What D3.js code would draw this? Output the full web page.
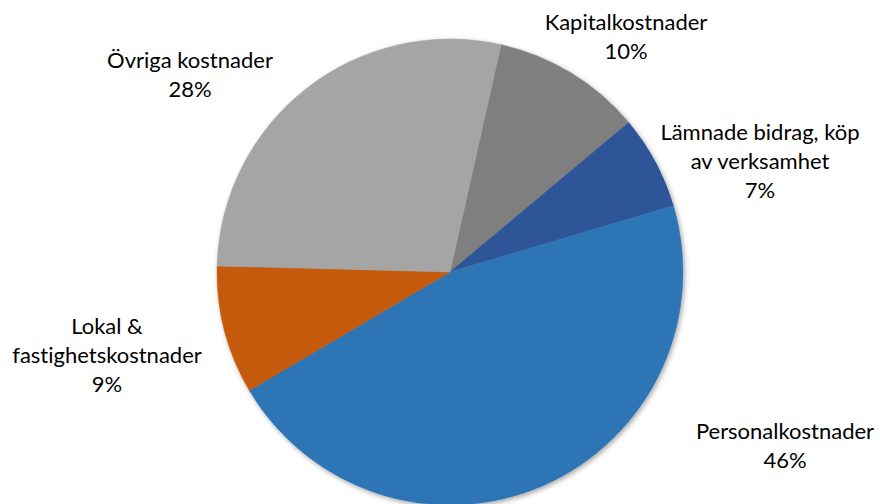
<!DOCTYPE html>
<html>
<head>
<meta charset="utf-8">
<script src="https://cdn.jsdelivr.net/npm/d3@7"></script>
<style>
  html, body { margin: 0; padding: 0; background: #ffffff; }
  svg { display: block; }
  text { font-variant-ligatures: none; font-feature-settings: "liga" 0, "clig" 0; }
</style>
</head>
<body>
<svg id="chart" width="880" height="504"></svg>
<script>
// ---- data ----
const categories = ["Kapitalkostnader", "Lämnade bidrag, köp av verksamhet", "Personalkostnader", "Lokal & fastighetskostnader", "Övriga kostnader"];
const values = [10.4, 6.5, 46.1, 8.9, 28.1];
const percentLabels = ["10%", "7%", "46%", "9%", "28%"];
const labelLines = [
  ["Kapitalkostnader"],
  ["Lämnade bidrag, köp", "av verksamhet"],
  ["Personalkostnader"],
  ["Lokal &", "fastighetskostnader"],
  ["Övriga kostnader"]
];
const colors = ["#7F7F7F", "#2F5597", "#2E75B6", "#C55A11", "#A5A5A5"];

// ---- layout ----
const W = 880, H = 504;
const cx = 450, cy = 272, R = 233;
const firstSliceAngle = 12.66; // degrees, clockwise from 12 o'clock
// label anchor (center x, first baseline y) for each slice
const labelPos = [
  [626, 30],
  [760, 139.5],
  [785, 439],
  [107, 333.5],
  [190, 68]
];
const lineH = 29.2;

const svg = d3.select("#chart");
const defs = svg.append("defs");
const f = defs.append("filter").attr("id", "shadow")
  .attr("x", "-10%").attr("y", "-10%").attr("width", "120%").attr("height", "120%");
f.append("feDropShadow").attr("dx", 1.5).attr("dy", 2).attr("stdDeviation", 2.5)
  .attr("flood-color", "#000").attr("flood-opacity", 0.35);

const pie = d3.pie().sort(null).value(d => d)
  .startAngle(firstSliceAngle * Math.PI / 180)
  .endAngle(firstSliceAngle * Math.PI / 180 + 2 * Math.PI);
const arcs = pie(values);
const arc = d3.arc().innerRadius(0).outerRadius(R);

const g = svg.append("g").attr("transform", `translate(${cx},${cy})`);
const gs = g.append("g").attr("filter", "url(#shadow)");
gs.selectAll("path").data(arcs).join("path")
  .attr("d", arc)
  .attr("fill", (d, i) => colors[i])
  .attr("stroke", (d, i) => colors[i])
  .attr("stroke-width", 0.5);

const lg = svg.append("g")
  .attr("font-family", "Lato, 'Open Sans', sans-serif")
  .attr("font-size", 22)
  .attr("fill", "#000")
  .attr("text-anchor", "middle");
arcs.forEach((d, i) => {
  const lines = labelLines[i].concat([percentLabels[i]]);
  const t = lg.append("text").attr("x", labelPos[i][0]).attr("y", labelPos[i][1]);
  lines.forEach((ln, j) => {
    t.append("tspan").attr("x", labelPos[i][0]).attr("dy", j === 0 ? 0 : lineH).text(ln);
  });
});
</script>
</body>
</html>
